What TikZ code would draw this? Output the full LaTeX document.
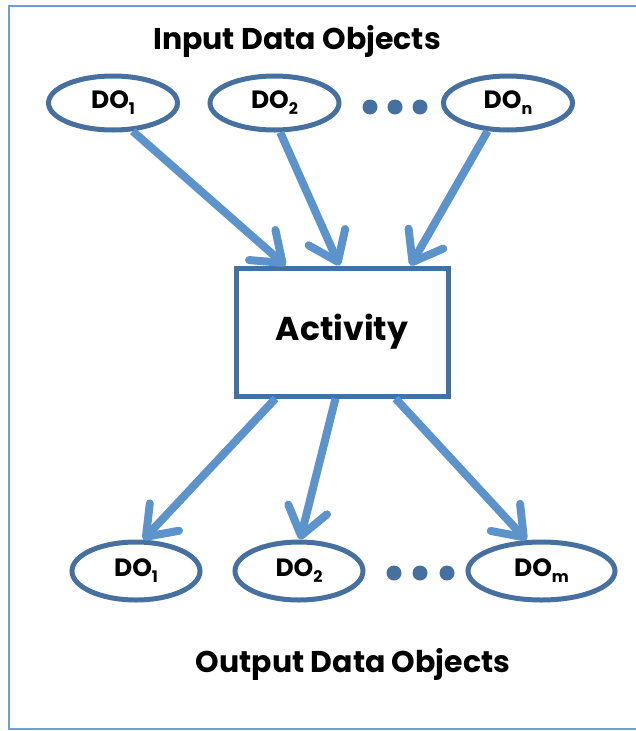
\documentclass[tikz,border=0pt]{standalone}
\usepackage{fontspec}
\setmainfont{Poppins}
\usetikzlibrary{arrows.meta,shapes.geometric}
\definecolor{frameblue}{HTML}{6F9DD6}
\definecolor{outline}{HTML}{4670A0}
\definecolor{flow}{HTML}{5B93CA}
\newcommand{\dosub}[1]{\raisebox{-6pt}{\fontsize{16}{16}\selectfont #1}}
\begin{document}
\begin{tikzpicture}[x=1pt,y=-1pt,
  dobj/.style={ellipse, draw=outline, line width=5pt, inner sep=0pt,
    minimum width=129pt, minimum height=54pt,
    font=\bfseries\fontsize{25}{27}\selectfont},
  actbox/.style={rectangle, draw=outline, line width=5pt, inner sep=0pt,
    minimum width=212pt, minimum height=128pt,
    font=\bfseries\fontsize{33}{38}\selectfont},
  heading/.style={font=\bfseries\fontsize{30}{34}\selectfont, inner sep=0pt},
  dot/.style={circle, fill=outline, inner sep=0pt, minimum size=15pt},
  flowarrow/.style={draw=flow, line width=8pt,
    -{Straight Barb[length=27pt, width=40pt, round]}}
]
\useasboundingbox (0,0) rectangle (636,731);
% frame, open on the right
\draw[frameblue, line width=2.5pt] (640,6) -- (9,6) -- (9,729) -- (640,729);

% headings
\node[heading, anchor=base] (inhead) at (297,49) {Input Data Objects};
\node[heading, anchor=base] (outhead) at (353,672) {Output Data Objects};

% input data objects
\node[dobj] (i1) at (113,103) {DO\dosub{1}};
\node[dobj] (i2) at (274.5,103) {DO\dosub{2}};
\node[dobj] (in) at (508,103) {DO\dosub{n}};
\node[dot] (id1) at (370,107) {};
\node[dot] (id2) at (395,107) {};
\node[dot] (id3) at (420,107) {};

% activity
\node[actbox] (act) at (342,332) {Activity};

% output data objects
\node[dobj, minimum height=58pt, minimum width=128pt] (o1) at (136,571) {DO\dosub{1}};
\node[dobj, minimum height=58pt, minimum width=128pt] (o2) at (299,571) {DO\dosub{2}};
\node[dobj, minimum height=58pt, minimum width=147pt] (om) at (541.5,571) {DO\dosub{m}};
\node[dot] (od1) at (394,573) {};
\node[dot] (od2) at (420,573) {};
\node[dot] (od3) at (447,573) {};

% data flow
\draw[flowarrow] (i1.-55) -- ([xshift=52pt]act.north west);
\draw[flowarrow] (i2.-79) -- ([xshift=106pt]act.north west);
\draw[flowarrow] (in.-126) -- ([xshift=177pt]act.north west);
\draw[flowarrow] ([xshift=42pt]act.south west) -- (o1.77);
\draw[flowarrow] ([xshift=102pt]act.south west) -- (o2.88);
\draw[flowarrow] ([xshift=162pt]act.south west) -- (om.116);
\end{tikzpicture}
\end{document}
